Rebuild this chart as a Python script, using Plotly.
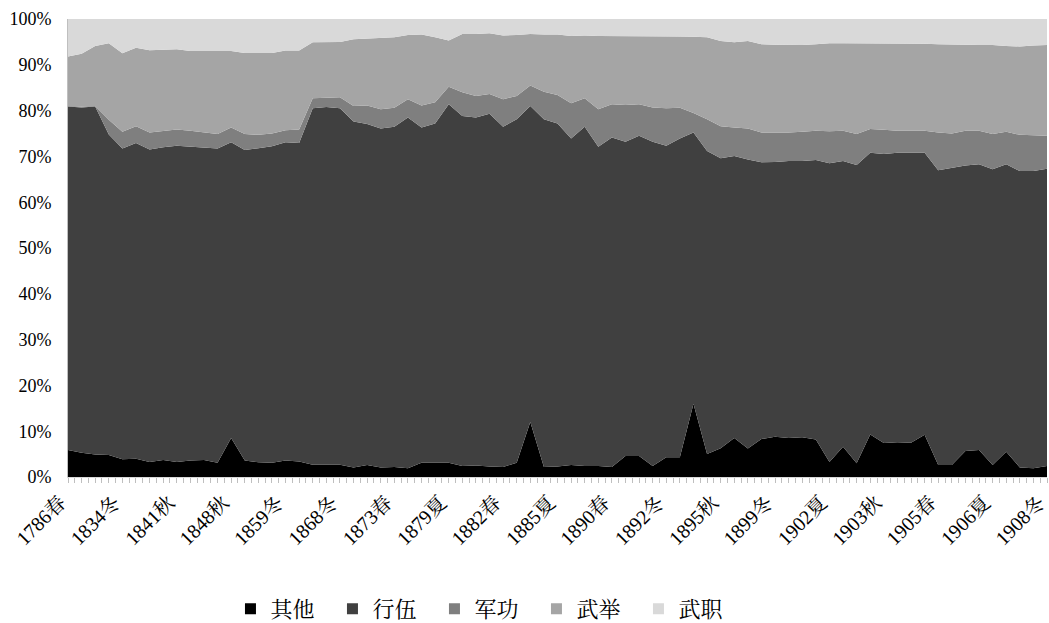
import plotly.graph_objects as go

tick_labels = ["1786春", "1834冬", "1841秋", "1848秋", "1859冬", "1868冬", "1873春",
               "1879夏", "1882春", "1885夏", "1890春", "1892冬", "1895秋", "1899冬",
               "1902夏", "1903秋", "1905春", "1906夏", "1908冬"]

qita = [5.9, 5.3, 4.9, 4.8, 3.9, 4.0, 3.3, 3.7, 3.3, 3.6, 3.7, 3.1, 8.5, 3.6, 3.2, 3.1,
        3.6, 3.4, 2.7, 2.7, 2.7, 2.1, 2.6, 2.1, 2.2, 1.9, 3.1, 3.1, 3.1, 2.4, 2.5, 2.3,
        2.2, 3.1, 12.0, 2.2, 2.3, 2.6, 2.4, 2.4, 2.2, 4.6, 4.6, 2.4, 4.3, 4.3, 16.0, 5.0,
        6.3, 8.5, 6.2, 8.3, 8.8, 8.5, 8.7, 8.2, 3.3, 6.6, 3.0, 9.3, 7.4, 7.6, 7.5, 9.2,
        2.6, 2.6, 5.7, 5.9, 2.6, 5.5, 2.1, 1.9, 2.4]

hangwu = [75.0, 75.4, 76.0, 70.0, 67.8, 68.9, 68.2, 68.3, 69.0, 68.5, 68.2, 68.6, 64.6,
          67.8, 68.6, 69.1, 69.5, 69.5, 77.8, 78.1, 77.8, 75.5, 74.5, 74.0, 74.3, 76.6,
          73.2, 74.1, 78.3, 76.4, 76.0, 77.0, 74.3, 75.0, 69.0, 75.9, 74.9, 71.3, 74.1,
          69.7, 71.9, 68.6, 69.9, 70.8, 68.0, 69.6, 59.2, 66.2, 63.3, 61.6, 63.1, 60.4,
          60.0, 60.5, 60.3, 61.0, 65.2, 62.4, 65.1, 61.5, 63.1, 63.2, 63.3, 61.6, 64.4,
          64.9, 62.3, 62.4, 64.6, 62.8, 64.7, 64.9, 64.9]

jungong = [0.1, 0.2, 0.1, 3.2, 3.7, 3.7, 3.7, 3.6, 3.6, 3.5, 3.4, 3.2, 3.2, 3.5, 2.9, 2.8,
           2.6, 3.0, 2.2, 2.0, 2.4, 3.4, 4.0, 4.2, 4.1, 4.0, 4.8, 4.6, 3.8, 5.2, 4.7, 4.3,
           6.0, 5.1, 4.5, 6.0, 6.2, 7.7, 6.2, 8.2, 7.3, 8.0, 6.9, 7.5, 8.2, 6.7, 4.3, 6.9,
           7.0, 6.2, 6.8, 6.5, 6.4, 6.2, 6.4, 6.4, 7.0, 6.6, 6.8, 5.2, 5.3, 4.8, 4.8, 4.8,
           8.2, 7.5, 7.6, 7.3, 7.7, 7.1, 7.9, 7.8, 7.2]

wuju = [10.8, 11.5, 13.1, 16.7, 17.1, 17.1, 18.0, 17.7, 17.5, 17.4, 17.7, 18.1, 16.7,
        17.7, 17.9, 17.6, 17.4, 17.2, 12.2, 12.2, 12.1, 14.6, 14.6, 15.5, 15.4, 14.0,
        15.5, 14.2, 10.1, 12.7, 13.5, 13.3, 13.9, 13.3, 11.2, 12.5, 13.2, 14.7, 13.7,
        16.0, 14.9, 15.0, 14.8, 15.5, 15.7, 15.6, 16.6, 17.9, 18.6, 18.6, 19.1, 19.3,
        19.2, 19.2, 18.9, 18.9, 19.2, 19.1, 19.8, 18.7, 18.9, 19.1, 19.1, 19.0, 19.3,
        19.5, 18.8, 18.7, 19.4, 18.7, 19.3, 19.6, 19.8]

wuzhi = [8.2, 7.6, 5.9, 5.3, 7.5, 6.3, 6.8, 6.7, 6.6, 7.0, 7.0, 7.0, 7.0, 7.4, 7.4, 7.4,
         6.9, 6.9, 5.1, 5.0, 5.0, 4.4, 4.3, 4.2, 4.0, 3.5, 3.4, 4.0, 4.7, 3.3, 3.3, 3.1,
         3.6, 3.5, 3.3, 3.4, 3.4, 3.7, 3.6, 3.7, 3.7, 3.8, 3.8, 3.8, 3.8, 3.8, 3.9, 4.0,
         4.8, 5.1, 4.8, 5.5, 5.6, 5.6, 5.7, 5.5, 5.3, 5.3, 5.3, 5.3, 5.3, 5.3, 5.3, 5.4,
         5.5, 5.5, 5.6, 5.7, 5.7, 5.9, 6.0, 5.8, 5.7]

series = [("其他", qita, "#000000"), ("行伍", hangwu, "#404040"),
          ("军功", jungong, "#7f7f7f"), ("武举", wuju, "#a5a5a5"),
          ("武职", wuzhi, "#d9d9d9")]

x = list(range(len(qita)))
label_step = (len(x) - 1) // (len(tick_labels) - 1)
y_ticks = list(range(0, 101, 10))

FONT = "Liberation Serif, Noto Serif CJK SC, Noto Sans CJK SC, serif"

fig = go.Figure()
for name, vals, color in series:
    fig.add_trace(go.Scatter(
        x=x, y=vals, name=name, mode="lines", stackgroup="one",
        groupnorm="percent", line=dict(width=0, color=color),
        fillcolor=color, showlegend=False))
# legend entries with square swatches
for name, vals, color in series:
    fig.add_trace(go.Scatter(
        x=[None], y=[None], name=name, mode="markers",
        marker=dict(symbol="square", size=11, color=color), showlegend=True))

fig.update_layout(
    width=1049, height=623,
    margin=dict(l=68, r=2, t=19, b=146, autoexpand=False),
    paper_bgcolor="white", plot_bgcolor="white",
    font=dict(family=FONT, color="#000000", size=18),
    showlegend=True,
    legend=dict(orientation="h", xref="container", yref="container",
                x=0.2197, y=0.0226, xanchor="left", yanchor="middle",
                font=dict(size=22, family=FONT), entrywidth=57,
                entrywidthmode="pixels", traceorder="normal",
                itemwidth=30, bgcolor="rgba(0,0,0,0)"),
    xaxis=dict(range=[0, len(x) - 1], tickmode="array",
               tickvals=list(range(0, len(x), label_step)), ticktext=tick_labels,
               tickangle=-45, tickfont=dict(size=20), automargin=False,
               ticklabeloverflow="allow", ticklabelshift=-8,
               ticks="outside", ticklen=5, tickcolor="#bfbfbf",
               showline=True, linecolor="#d9d9d9", linewidth=1,
               showgrid=False, zeroline=False,
               minor=dict(tickmode="linear", tick0=0, dtick=0.5,
                          ticks="outside", ticklen=5, tickcolor="#bfbfbf")),
    yaxis=dict(range=[0, 100], tickmode="array", automargin=False,
               tickvals=y_ticks, ticktext=[f"{v}%" for v in y_ticks],
               showgrid=False, zeroline=False, showline=True,
               linecolor="#bfbfbf", linewidth=1, ticks="",
               ticklabelstandoff=12, tickfont=dict(size=18)),
)

fig.write_html("out.html", config={"displayModeBar": False},
               post_script="document.body.style.margin='0px';")
